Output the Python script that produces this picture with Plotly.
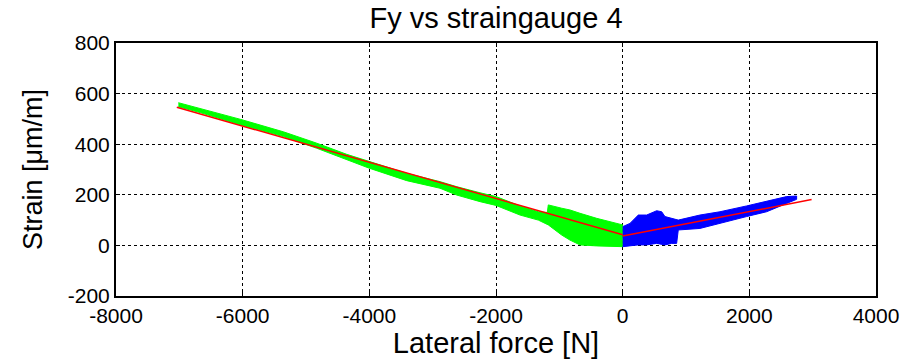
import plotly.graph_objects as go

# Green band (negative lateral force): upper and lower envelopes
green_x_up = [-7015, -6672, -6030, -5357, -4830, -4357, -4000, -3410, -2884, -2620, -2252, -2000, -1621, -1332, -1190, -1174, -963, -832, -674, -410, 0]
green_y_up = [564, 542, 498, 449, 404, 360, 331, 285, 252, 232, 208, 193, 156, 133, 130, 160, 147, 140, 127, 107, 81]
green_x_lo = [-7015, -6672, -6030, -5357, -4830, -4357, -4000, -3410, -2884, -2620, -2252, -2000, -1621, -1332, -1174, -963, -832, -674, -410, 0]
green_y_lo = [548, 525, 476, 430, 384, 340, 305, 256, 226, 199, 173, 158, 120, 100, 81, 41, 21, 2, -2, -5]

# Blue band (positive lateral force): upper and lower envelopes
blue_x_up = [0, 115, 247, 379, 537, 616, 668, 773, 852, 878, 1220, 1536, 1957, 2273, 2589, 2747]
blue_y_up = [74, 87, 120, 120, 137, 133, 114, 107, 100, 100, 120, 133, 156, 173, 193, 195]
blue_x_lo = [0, 115, 247, 379, 537, 668, 773, 852, 878, 1220, 1536, 1957, 2273, 2589, 2747]
blue_y_lo = [-5, -2, 2, 2, 8, 2, 8, 8, 61, 67, 87, 114, 133, 166, 182]

# Red fitted lines
fit_left_x = [-7040, 0]
fit_left_y = [546, 42]
fit_right_x = [0, 2983]
fit_right_y = [37, 181]

x_ticks = [-8000, -6000, -4000, -2000, 0, 2000, 4000]
x_tick_labels = ["-8000", "-6000", "-4000", "-2000", "0", "2000", "4000"]
y_ticks = [-200, 0, 200, 400, 600, 800]
y_tick_labels = ["-200", "0", "200", "400", "600", "800"]

FONT = "Liberation Sans, Arial, sans-serif"

fig = go.Figure()
fig.add_trace(go.Scatter(
    x=green_x_up + green_x_lo[::-1],
    y=green_y_up + green_y_lo[::-1],
    fill="toself", fillcolor="#00ff00", mode="lines",
    line=dict(color="#00ff00", width=1), hoverinfo="skip", showlegend=False))
fig.add_trace(go.Scatter(
    x=blue_x_up + blue_x_lo[::-1],
    y=blue_y_up + blue_y_lo[::-1],
    fill="toself", fillcolor="#0000ff", mode="lines",
    line=dict(color="#0000ff", width=1), hoverinfo="skip", showlegend=False))
fig.add_trace(go.Scatter(x=fit_left_x, y=fit_left_y, mode="lines",
                         line=dict(color="#ff0000", width=1.5), showlegend=False))
fig.add_trace(go.Scatter(x=fit_right_x, y=fit_right_y, mode="lines",
                         line=dict(color="#ff0000", width=1.5), showlegend=False))

axis_common = dict(
    showline=True, linecolor="black", linewidth=2, mirror="ticks",
    ticks="inside", ticklen=4, tickwidth=1, tickcolor="black",
    showgrid=True, gridcolor="black", gridwidth=1, griddash="dot",
    zeroline=False, automargin=False,
    tickfont=dict(family=FONT, size=21, color="black"),
)

fig.update_layout(
    width=902, height=359,
    margin=dict(l=116, r=26, t=43, b=63),
    paper_bgcolor="white", plot_bgcolor="white",
    title=dict(text="Fy vs straingauge 4", x=0.5, xref="paper", xanchor="center",
               y=1 - 18 / 359, yref="container", yanchor="middle",
               font=dict(family=FONT, size=29, color="black")),
    xaxis=dict(range=[-8000, 4000], tickvals=x_ticks, ticktext=x_tick_labels,
               title=dict(text="Lateral force [N]", standoff=4,
                          font=dict(family=FONT, size=29, color="black")),
               **axis_common),
    yaxis=dict(range=[-200, 800], tickvals=y_ticks, ticktext=y_tick_labels,
               title=dict(text="Strain [μm/m]", standoff=17,
                          font=dict(family=FONT, size=27, color="black")),
               **axis_common),
)

fig.write_html("out.html")
